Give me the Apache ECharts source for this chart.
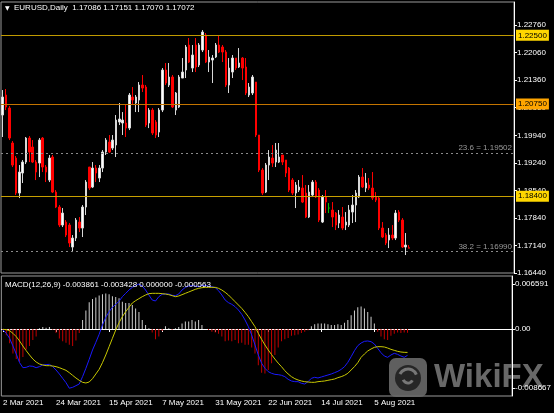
<!DOCTYPE html>
<html><head><meta charset="utf-8">
<script src="https://cdn.jsdelivr.net/npm/echarts@6/dist/echarts.min.js"></script>
<style>html,body{margin:0;padding:0;background:#000;}#c{width:554px;height:413px;}</style>
</head><body><div id="c"></div>
<script>
// ---- data ----
const symbolTitle = 'EURUSD,Daily';
const titleValues = [1.17086, 1.17151, 1.17070, 1.17072];
const opens = [
1.20468,1.20978,1.20646,1.19754,1.19371,1.18479,1.18989,1.19269,1.19881,1.19652,
1.19269,1.19244,1.19881,1.19142,1.18810,1.19397,1.18504,1.18122,1.17663,1.17739,
1.17663,1.17102,1.17331,1.17739,1.17586,1.18122,1.19142,1.18632,1.19116,1.18861,
1.19116,1.19524,1.19779,1.19626,1.19703,1.20289,1.20264,1.20264,1.20136,1.20927,
1.20774,1.20850,1.21233,1.21182,1.20264,1.20595,1.20289,1.20034,1.20595,1.21615,
1.21233,1.21437,1.20595,1.20672,1.21411,1.21615,1.22253,1.21666,1.22253,1.21743,
1.22125,1.22508,1.21819,1.21870,1.21947,1.22253,1.22202,1.22074,1.21233,1.21564,
1.21921,1.21692,1.21921,1.21692,1.20978,1.21029,1.21309,1.19958,1.19065,1.18504,
1.19193,1.19371,1.19269,1.19269,1.19448,1.19320,1.19116,1.18810,1.18479,1.18555,
1.18606,1.18479,1.17867,1.18428,1.18759,1.18555,1.17739,1.18377,1.18096,1.18045,
1.17969,1.17714,1.17867,1.17663,1.17663,1.17994,1.18173,1.18377,1.18887,1.18606,
1.18683,1.18606,1.18377,1.18351,1.17586,1.17408,1.17280,1.17408,1.17331,1.17994,
1.17790,1.17102,1.17086];
const highs = [
1.21105,1.21131,1.20697,1.19805,1.19422,1.19193,1.19320,1.19907,1.19932,1.19830,
1.19320,1.19881,1.19907,1.19193,1.19448,1.19448,1.18555,1.18173,1.18096,1.17790,
1.17714,1.17408,1.17841,1.17867,1.18173,1.18810,1.19142,1.19269,1.19193,1.19193,
1.19575,1.19881,1.19958,1.19958,1.20468,1.20774,1.20544,1.20723,1.21029,1.21182,
1.20978,1.21309,1.21488,1.21233,1.20646,1.20646,1.20340,1.20646,1.21666,1.21794,
1.21794,1.21488,1.21054,1.21488,1.21921,1.22253,1.22431,1.22253,1.22431,1.22304,
1.22635,1.22559,1.22125,1.21998,1.22304,1.22508,1.22253,1.22125,1.21921,1.21998,
1.21921,1.22176,1.21947,1.21921,1.21284,1.21488,1.21309,1.19958,1.19116,1.19244,
1.19575,1.19703,1.19754,1.19754,1.19448,1.19320,1.19142,1.18861,1.18759,1.18810,
1.18938,1.18683,1.18683,1.18810,1.18810,1.18606,1.18428,1.18555,1.18224,1.18249,
1.17994,1.18045,1.18122,1.17994,1.18173,1.18428,1.18555,1.18938,1.19116,1.18989,
1.18861,1.19014,1.18504,1.18377,1.17739,1.17459,1.17586,1.17663,1.18045,1.18045,
1.17841,1.17459,1.17151];
const lows = [
1.19907,1.20595,1.19830,1.19142,1.18428,1.18351,1.18734,1.19218,1.19269,1.19244,
1.18810,1.18887,1.19014,1.18759,1.18759,1.18479,1.18096,1.17612,1.17612,1.17357,
1.17102,1.16974,1.17255,1.17484,1.17357,1.17918,1.18555,1.18606,1.18759,1.18759,
1.19014,1.19448,1.19499,1.19575,1.19397,1.20213,1.19958,1.19907,1.20085,1.20723,
1.20544,1.20544,1.21054,1.20162,1.20136,1.19958,1.19881,1.19907,1.20544,1.21233,
1.21182,1.20646,1.20468,1.20646,1.21411,1.21411,1.21794,1.21564,1.21564,1.21692,
1.22074,1.21794,1.21564,1.21284,1.21921,1.22049,1.21819,1.21182,1.21029,1.21411,
1.21615,1.21666,1.21360,1.20978,1.20927,1.20978,1.19907,1.19014,1.18428,1.18479,
1.18810,1.19142,1.19142,1.19244,1.19193,1.18887,1.18504,1.18428,1.18096,1.18504,
1.18224,1.17841,1.17841,1.18377,1.18351,1.17739,1.17714,1.17969,1.17969,1.17612,
1.17535,1.17586,1.17535,1.17535,1.17612,1.17714,1.17739,1.18351,1.18606,1.18504,
1.18555,1.18300,1.18249,1.17535,1.17331,1.17153,1.17076,1.17280,1.17280,1.17739,
1.17076,1.16898,1.17070];
const closes = [
1.20927,1.20672,1.19881,1.19193,1.18479,1.19014,1.19269,1.19881,1.19524,1.19269,
1.19014,1.19830,1.19142,1.19014,1.19371,1.18504,1.18122,1.17663,1.17969,1.17408,
1.17204,1.17331,1.17790,1.17586,1.18122,1.18759,1.18606,1.19116,1.18989,1.19116,
1.19524,1.19830,1.19524,1.19830,1.20340,1.20366,1.20340,1.20136,1.20978,1.20850,
1.20927,1.21233,1.21156,1.20213,1.20595,1.20009,1.19958,1.20595,1.21615,1.21284,
1.21437,1.20672,1.21029,1.21437,1.21564,1.22202,1.21819,1.21998,1.21692,1.22253,
1.22584,1.21819,1.21947,1.21921,1.22253,1.22074,1.22074,1.21233,1.21666,1.21921,
1.21666,1.21794,1.21666,1.21029,1.21182,1.21437,1.19958,1.19065,1.18479,1.19193,
1.19397,1.19244,1.19575,1.19397,1.19269,1.18989,1.18555,1.18479,1.18683,1.18632,
1.18249,1.17867,1.18504,1.18759,1.18377,1.17790,1.18377,1.18249,1.18096,1.17867,
1.17663,1.17918,1.17586,1.17739,1.18045,1.18173,1.18479,1.18887,1.18632,1.18734,
1.18606,1.18351,1.18300,1.17586,1.17357,1.17204,1.17408,1.17331,1.17969,1.17790,
1.17102,1.17153,1.17072];
const dojiBars = [98];

const macdMain = [
-0.000146,-0.000634,-0.001366,-0.002489,-0.003660,-0.004929,-0.005661,-0.005612,-0.005417,-0.005466,
-0.005661,-0.005514,-0.005270,-0.005222,-0.005173,-0.005514,-0.006002,-0.006588,-0.007222,-0.007857,
-0.008667,-0.008540,-0.008296,-0.008052,-0.006978,-0.005758,-0.004441,-0.003074,-0.001952,-0.000781,
0.000586,0.001708,0.002538,0.003172,0.003611,0.004050,0.004734,0.005222,0.005710,0.006100,
0.006344,0.006591,0.006295,0.005710,0.004978,0.004246,0.004099,0.004734,0.005075,0.005124,
0.005124,0.004929,0.004880,0.005124,0.005710,0.006100,0.006295,0.006344,0.006295,0.006198,
0.006393,0.006393,0.006246,0.006198,0.006051,0.005612,0.004978,0.004246,0.003855,0.003611,
0.003270,0.002782,0.002147,0.001318,0.000342,-0.000878,-0.002342,-0.003806,-0.005026,-0.005758,
-0.006246,-0.006490,-0.006637,-0.006686,-0.006783,-0.006978,-0.007369,-0.007613,-0.007710,-0.007710,
-0.007954,-0.008052,-0.007710,-0.007222,-0.007076,-0.007174,-0.007027,-0.006881,-0.006734,-0.006588,
-0.006393,-0.006198,-0.005905,-0.005514,-0.004880,-0.004050,-0.003172,-0.002440,-0.002050,-0.001806,
-0.001757,-0.001854,-0.002196,-0.002830,-0.003465,-0.003953,-0.004148,-0.003806,-0.003562,-0.003709,
-0.003953,-0.004148,-0.003861];
const macdSignal = [
-0.000049,-0.000098,-0.000244,-0.000634,-0.001122,-0.001757,-0.002489,-0.003172,-0.003806,-0.004392,
-0.004831,-0.005124,-0.005270,-0.005368,-0.005368,-0.005417,-0.005514,-0.005661,-0.005856,-0.006051,
-0.006393,-0.006783,-0.007174,-0.007515,-0.007808,-0.007906,-0.007759,-0.007271,-0.006588,-0.005905,
-0.004929,-0.003806,-0.002586,-0.001366,-0.000146,0.000927,0.001806,0.002538,0.003172,0.003806,
0.004148,0.004441,0.004734,0.004978,0.005173,0.005222,0.005222,0.005222,0.005173,0.005124,
0.005026,0.004880,0.004734,0.004831,0.005026,0.005222,0.005417,0.005612,0.005807,0.005954,
0.006051,0.006100,0.006100,0.006100,0.006100,0.005954,0.005710,0.005368,0.004978,0.004490,
0.004002,0.003514,0.003026,0.002440,0.001806,0.001074,0.000342,-0.000634,-0.001513,-0.002342,
-0.003074,-0.003750,-0.004400,-0.005000,-0.005520,-0.006100,-0.006588,-0.006978,-0.007271,-0.007466,
-0.007613,-0.007710,-0.007759,-0.007808,-0.007808,-0.007710,-0.007662,-0.007613,-0.007515,-0.007418,
-0.007320,-0.007125,-0.006978,-0.006783,-0.006490,-0.006002,-0.005514,-0.004929,-0.004148,-0.003660,
-0.003221,-0.002928,-0.002684,-0.002586,-0.002586,-0.002635,-0.002782,-0.002977,-0.003123,-0.003270,
-0.003367,-0.003416,-0.003428];
const macdHist = [
-0.00015,-0.0009,-0.0021,-0.0036,-0.0044,-0.0048,-0.0041,-0.0030,-0.0025,-0.0016,
-0.0011,0.0001,0.0003,0.0002,0.0003,-0.0001,-0.0006,-0.0014,-0.0018,-0.0020,
-0.0023,-0.0025,-0.0017,-0.0006,0.0013,0.0027,0.0039,0.0044,0.0046,0.0049,
0.0051,0.0052,0.0051,0.0048,0.0047,0.0045,0.0040,0.0038,0.0038,0.0035,
0.0030,0.0025,0.0013,0.0006,0.0001,-0.0005,-0.0015,-0.0011,-0.0003,0.0004,
0.0001,-0.0001,0.0001,0.0003,0.0008,0.0011,0.0011,0.0013,0.0011,0.0013,
0.0006,0.0000,-0.00015,-0.0004,-0.0005,-0.0007,-0.0011,-0.0018,-0.0017,-0.0018,
-0.0016,-0.0021,-0.0020,-0.0023,-0.0023,-0.0027,-0.0036,-0.0053,-0.0064,-0.0065,
-0.0060,-0.0050,-0.0038,-0.0027,-0.0018,-0.0015,-0.0013,-0.0010,-0.0009,-0.0008,
-0.0006,-0.0004,-0.0002,0.0004,0.0007,0.0008,0.0008,0.0008,0.0007,0.0006,
0.0006,0.0007,0.0006,0.0009,0.0013,0.0020,0.0027,0.0032,0.0033,0.0030,
0.0025,0.0018,0.0008,-0.0004,-0.0011,-0.0015,-0.0016,-0.0010,-0.0007,-0.0005,
-0.0006,-0.0005,-0.000563];
const macdHeader = [-0.003861, -0.003428, 0.000000, -0.000563];

const priceTicks = [1.16440,1.17140,1.17840,1.18540,1.19240,1.19940,1.20660,1.21360,1.22060,1.22760];
const macdTicks = [0.006591, 0, -0.008667];
const dateLabels = ['2 Mar 2021','24 Mar 2021','15 Apr 2021','7 May 2021','31 May 2021','22 Jun 2021','14 Jul 2021','5 Aug 2021'];
const dateTickIndex = [0,16,32,48,64,80,96,112];
const levelPrices = [1.22500, 1.20750, 1.18400];
const fibRatios = [23.6, 38.2];
const fibPrices = [1.19502, 1.16990];
const lastPrice = 1.17072;
const totalSlots = 154;

// ---- styles ----
const levelLineColors = ['#c09a00', '#c47400', '#c8a000'];
const levelBoxColors = ['#ffd700', '#ffa500', '#ffd700'];
const FONT = 'Liberation Sans, Arial, sans-serif';

const cats = Array.from({length: totalSlots}, (_, i) => String(i));
const labelMap = {};
dateTickIndex.forEach((ix, k) => labelMap[ix] = dateLabels[k]);

const candleData = opens.map((o, i) => {
  const v = [o, closes[i], lows[i], highs[i]];
  if (dojiBars.includes(i)) {
    return {value: v, itemStyle: {color: '#00c000', color0: '#00c000', borderColor: '#00c000', borderColor0: '#00c000', borderColorDoji: '#00c000'}};
  }
  return v;
});
const histData = macdHist.map(v => ({value: v, itemStyle: {color: v >= 0 ? '#cfcfcf' : '#c00000'}}));

const markData = [];
markData.push({
  yAxis: lastPrice,
  lineStyle: {opacity: 0},
  label: {show: true, position: 'end', distance: 2, formatter: lastPrice.toFixed(5), backgroundColor: '#ffffff',
          color: '#000', fontSize: 8, fontFamily: FONT, padding: [2, 2, 1, 2]}
});
fibPrices.forEach((p, k) => markData.push({
  yAxis: p,
  lineStyle: {color: '#8a8a8a', width: 1, type: [2, 3]},
  label: {show: true, position: 'insideEndTop', distance: [2, 1], formatter: fibRatios[k].toFixed(1) + ' = ' + p.toFixed(5),
          color: '#9a9a9a', fontSize: 8, fontFamily: FONT}
}));
levelPrices.forEach((p, k) => markData.push({
  yAxis: p,
  lineStyle: {color: levelLineColors[k], width: 1.2, type: 'solid', opacity: 1},
  label: {show: true, position: 'end', distance: 2, formatter: p.toFixed(5), backgroundColor: levelBoxColors[k],
          color: '#000', fontSize: 8, fontFamily: FONT, padding: [2, 2, 1, 2]}
}));

const chart = echarts.init(document.getElementById('c'), null, {renderer: 'canvas'});
chart.setOption({
  animation: false,
  backgroundColor: '#000',
  textStyle: {fontFamily: FONT},
  title: [
    {text: symbolTitle + '  ' + titleValues.map(v => v.toFixed(5)).join(' '), left: 14, top: 4, padding: 0,
     textStyle: {color: '#ffffff', fontSize: 8, fontWeight: 'normal', fontFamily: FONT}},
    {text: 'MACD(12,26,9) ' + macdHeader.map(v => v.toFixed(6)).join(' '), left: 5, top: 281, padding: 0,
     textStyle: {color: '#ffffff', fontSize: 8, fontWeight: 'normal', fontFamily: FONT}}
  ],
  grid: [
    {left: 1, top: 2, width: 513, height: 271, show: true, borderColor: '#9a9a9a', borderWidth: 1, backgroundColor: '#000'},
    {left: 1, top: 276, width: 513, height: 120, show: true, borderColor: '#9a9a9a', borderWidth: 1, backgroundColor: '#000'}
  ],
  xAxis: [
    {type: 'category', gridIndex: 0, data: cats, boundaryGap: true, show: false},
    {type: 'category', gridIndex: 1, data: cats, boundaryGap: true,
     axisLine: {show: true, lineStyle: {color: '#ffffff'}},
     axisTick: {show: true, alignWithLabel: true, length: 3, interval: (i) => labelMap[i] !== undefined, lineStyle: {color: '#ffffff'}},
     axisLabel: {show: true, interval: (i) => labelMap[i] !== undefined, formatter: (v, i) => labelMap[i] || '',
                 align: 'left', color: '#ffffff', fontSize: 8, margin: 3, fontFamily: FONT},
     splitLine: {show: false}}
  ],
  yAxis: [
    {type: 'value', gridIndex: 0, position: 'right', min: 1.1644, max: 1.2335,
     axisLine: {show: true, lineStyle: {color: '#ffffff'}},
     axisTick: {show: true, length: 3, customValues: priceTicks, lineStyle: {color: '#ffffff'}},
     axisLabel: {show: true, customValues: priceTicks, formatter: v => v.toFixed(5), color: '#ffffff', fontSize: 8, margin: 3, fontFamily: FONT},
     splitLine: {show: false}},
    {type: 'value', gridIndex: 1, position: 'right', min: -0.00981, max: 0.00776,
     axisLine: {show: true, lineStyle: {color: '#ffffff'}},
     axisTick: {show: true, length: 3, customValues: macdTicks, lineStyle: {color: '#ffffff'}},
     axisLabel: {show: true, customValues: macdTicks, formatter: v => (v === 0 ? '0.00' : v.toFixed(6)), color: '#ffffff', fontSize: 8, margin: 3, fontFamily: FONT},
     splitLine: {show: false}}
  ],
  series: [
    {type: 'candlestick', xAxisIndex: 0, yAxisIndex: 0, data: candleData, barWidth: 2, z: 3,
     itemStyle: {color: '#ffffff', color0: '#ff0000', borderColor: '#d8d8d8', borderColor0: '#ff0000', borderWidth: 1}},
    {type: 'line', xAxisIndex: 0, yAxisIndex: 0, data: closes, showSymbol: false, silent: true, z: 2,
     lineStyle: {opacity: 0}, tooltip: {show: false},
     markLine: {silent: true, precision: 6, symbol: ['none', 'none'], animation: false, data: markData}},
    {type: 'bar', xAxisIndex: 1, yAxisIndex: 1, data: histData, barWidth: 1},
    {type: 'line', xAxisIndex: 1, yAxisIndex: 1, data: macdMain, showSymbol: false, lineStyle: {color: '#1a1aff', width: 1}, z: 3},
    {type: 'line', xAxisIndex: 1, yAxisIndex: 1, data: macdSignal, showSymbol: false, lineStyle: {color: '#c8c800', width: 1}, z: 4}
  ],
  graphic: [
    {type: 'text', left: 5, top: 5, style: {text: '▼', fill: '#ffffff', fontSize: 6, fontFamily: 'DejaVu Sans'}},
    {type: 'group', left: 389, top: 358, children: [
      {type: 'rect', shape: {x: 0, y: 0, width: 38, height: 39, r: 7}, style: {fill: 'rgba(105,105,105,0.9)'}},
      {type: 'circle', shape: {cx: 19, cy: 20, r: 13}, style: {fill: '#262626'}},
      {type: 'arc', shape: {cx: 19, cy: 20, r: 9, startAngle: 3.6, endAngle: 5.9}, style: {stroke: '#777', lineWidth: 3, fill: null}},
      {type: 'arc', shape: {cx: 19, cy: 20, r: 5, startAngle: 0.5, endAngle: 2.8}, style: {stroke: '#777', lineWidth: 3, fill: null}}
    ]},
    {type: 'text', left: 434, top: 361, style: {text: 'WikiFX', fill: 'rgba(110,110,110,0.95)', fontSize: 33, fontWeight: 'bold', fontFamily: 'Liberation Sans, Arial, sans-serif'}}
  ]
});
</script>
</body></html>
